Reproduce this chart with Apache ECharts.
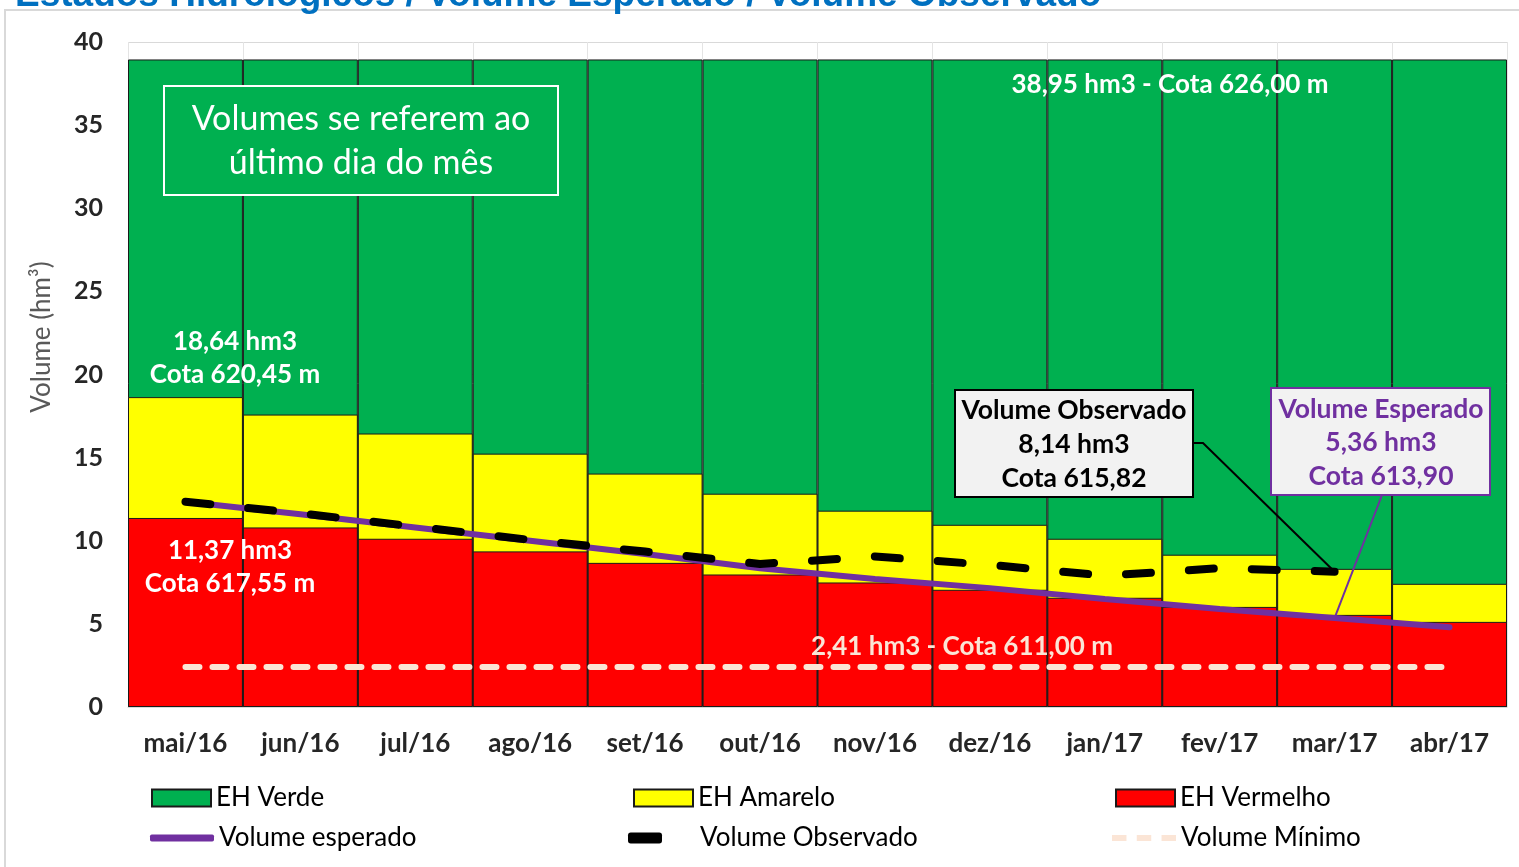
<!DOCTYPE html>
<html>
<head>
<meta charset="utf-8">
<title>Estados Hidrológicos</title>
<script src="https://cdn.jsdelivr.net/npm/echarts@6/dist/echarts.min.js"></script>
<style>
  html, body { margin: 0; padding: 0; background: #fff; }
  #chart { width: 1519px; height: 867px; }
</style>
</head>
<body>
<div id="chart"></div>
<script>
// meses (ultimo dia do mes)
var months = ['mai/16', 'jun/16', 'jul/16', 'ago/16', 'set/16', 'out/16', 'nov/16', 'dez/16', 'jan/17', 'fev/17', 'mar/17', 'abr/17']
// topo de cada faixa (hm3)
var verdeTop = [38.95, 38.95, 38.95, 38.95, 38.95, 38.95, 38.95, 38.95, 38.95, 38.95, 38.95, 38.95]
var amareloTop = [18.64, 17.59, 16.45, 15.24, 14.04, 12.83, 11.81, 10.96, 10.12, 9.16, 8.31, 7.41]
var vermelhoTop = [11.37, 10.80, 10.12, 9.36, 8.67, 7.97, 7.49, 7.05, 6.57, 6.02, 5.54, 5.12]
var volEsperado = [12.35, 11.6, 10.8, 10.0, 9.2, 8.35, 7.7, 7.15, 6.5, 5.9, 5.36, 4.8]
var volObservado = [12.35, 11.65, 10.85, 10.05, 9.35, 8.6, 9.05, 8.55, 7.9, 8.35, 8.14, null]
var volMinimo = [2.41, 2.41, 2.41, 2.41, 2.41, 2.41, 2.41, 2.41, 2.41, 2.41, 2.41, 2.41]
var yTicks = { min: 0, max: 40, interval: 5 }

var FONT = 'Lato'
var chart = echarts.init(document.getElementById('chart'))

function legendItem(name, left, top, extra) {
  var l = {
    data: [name],
    left: left,
    top: top,
    padding: 0,
    itemWidth: 59,
    itemHeight: 17,
    icon: 'rect',
    selectedMode: false,
    textStyle: { fontFamily: FONT, fontSize: 26, color: '#000' }
  }
  return Object.assign(l, extra || {})
}

var option = {
  animation: false,
  backgroundColor: '#fff',
  grid: { left: 128, right: 12, top: 42, bottom: 160 },
  xAxis: {
    type: 'category',
    data: months,
    axisTick: { show: false },
    axisLine: { lineStyle: { color: '#d9d9d9' } },
    splitLine: { show: true, interval: 0, lineStyle: { color: '#e4e4e4' } },
    axisLabel: { margin: 24, interval: 0, fontFamily: FONT, fontWeight: 'bold', fontSize: 26, color: '#262626' }
  },
  yAxis: {
    type: 'value',
    min: yTicks.min,
    max: yTicks.max,
    interval: yTicks.interval,
    axisLine: { show: false },
    axisTick: { show: false },
    splitLine: { lineStyle: { color: '#d9d9d9' } },
    axisLabel: { margin: 25, fontFamily: FONT, fontWeight: 'bold', fontSize: 25, color: '#262626' }
  },
  legend: [
    legendItem('EH Verde', 151, 785),
    legendItem('EH Amarelo', 633, 785),
    legendItem('EH Vermelho', 1115, 785),
    legendItem('Volume esperado', 150, 825, { itemWidth: 64, itemHeight: 7, icon: 'roundRect' }),
    legendItem('Volume Observado', 628, 825, {
      itemWidth: 34, itemHeight: 11, icon: 'roundRect',
      textStyle: { fontFamily: FONT, fontSize: 26, color: '#000', padding: [0, 0, 0, 33] }
    }),
    legendItem('Volume Mínimo', 1112, 825, {
      itemWidth: 64, itemHeight: 7,
      icon: 'path://M0,0h14v6h-14z M24,0h14v6h-14z M48,0h14v6h-14z'
    })
  ],
  series: [
    {
      name: 'EH Verde', type: 'bar', data: verdeTop,
      barGap: '-100%', barCategoryGap: '0%',
      itemStyle: { color: '#00b050', borderColor: '#1a1a1a', borderWidth: 1 }
    },
    {
      name: 'EH Amarelo', type: 'bar', data: amareloTop,
      barGap: '-100%', barCategoryGap: '0%',
      itemStyle: { color: '#ffff00', borderColor: '#1a1a1a', borderWidth: 1 }
    },
    {
      name: 'EH Vermelho', type: 'bar', data: vermelhoTop,
      barGap: '-100%', barCategoryGap: '0%',
      itemStyle: { color: '#ff0000', borderColor: '#1a1a1a', borderWidth: 1 }
    },
    {
      name: 'Volume Mínimo', type: 'line', data: volMinimo,
      symbol: 'none', z: 3,
      itemStyle: { color: '#fbe5d6' },
      lineStyle: { color: '#fbe5d6', width: 6, type: [14, 13], cap: 'round' }
    },
    {
      name: 'Volume esperado', type: 'line', data: volEsperado,
      symbol: 'none', z: 4,
      itemStyle: { color: '#7030a0' },
      lineStyle: { color: '#7030a0', width: 6, cap: 'round' }
    },
    {
      name: 'Volume Observado', type: 'line', data: volObservado,
      symbol: 'none', z: 5,
      itemStyle: { color: '#000' },
      lineStyle: { color: '#000', width: 8, type: [25, 38], cap: 'round' }
    }
  ]
}
chart.setOption(option)

// caixas de texto e linhas de chamada
var pObs = chart.convertToPixel({ xAxisIndex: 0, yAxisIndex: 0 }, [10, volObservado[10]])
var pEsp = chart.convertToPixel({ xAxisIndex: 0, yAxisIndex: 0 }, [10, volEsperado[10]])

function txt(x, y, text, size, color, weight, align) {
  return {
    type: 'text', x: x, y: y, z: 20,
    style: {
      text: text, fill: color, font: (weight || 'bold') + ' ' + size + 'px ' + FONT,
      align: align || 'center', verticalAlign: 'middle'
    }
  }
}

chart.setOption({
  graphic: [
    // moldura
    { type: 'rect', shape: { x: 5, y: 10, width: 1600, height: 1000 }, style: { fill: null, stroke: '#d9d9d9', lineWidth: 2 }, z: 1 },
    {
      type: 'text', x: 15, y: 14, z: 30,
      style: {
        text: 'Estados Hidrológicos / Volume Esperado / Volume Observado',
        fill: '#0070c0', font: 'bold 37px "Liberation Sans"', align: 'left', verticalAlign: 'bottom'
      }
    },
    // titulo do eixo y
    {
      type: 'text', x: 42, y: 337, rotation: Math.PI / 2, z: 20,
      style: { text: 'Volume (hm³)', fill: '#595959', font: '26px ' + FONT, align: 'center', verticalAlign: 'middle' }
    },
    { type: 'rect', shape: { x: 164, y: 86, width: 394, height: 109 }, style: { fill: '#00b050', stroke: '#fff', lineWidth: 2 }, z: 20 },
    txt(361, 119, 'Volumes se referem ao', 34, '#fff', 'normal'),
    txt(361, 163, 'último dia do mês', 34, '#fff', 'normal'),
    txt(1170, 85, '38,95 hm3 - Cota 626,00 m', 26, '#fff'),
    txt(235, 342, '18,64 hm3', 26, '#fff'),
    txt(235, 375, 'Cota 620,45 m', 26, '#fff'),
    txt(230, 551, '11,37 hm3', 26, '#fff'),
    txt(230, 584, 'Cota 617,55 m', 26, '#fff'),
    txt(962, 647, '2,41 hm3 - Cota 611,00 m', 26, '#fbe5d6'),
    // volume observado
    { type: 'polyline', shape: { points: [[1193, 443], [1203, 443], pObs] }, style: { stroke: '#000', lineWidth: 2, fill: null }, z: 19 },
    { type: 'rect', shape: { x: 955, y: 390, width: 238, height: 107 }, style: { fill: '#f2f2f2', stroke: '#000', lineWidth: 2 }, z: 20 },
    txt(1074, 410, 'Volume Observado', 26.5, '#000'),
    txt(1074, 444, '8,14 hm3', 26.5, '#000'),
    txt(1074, 478, 'Cota 615,82', 26.5, '#000'),
    // volume esperado
    { type: 'line', shape: { x1: 1382, y1: 495, x2: pEsp[0], y2: pEsp[1] }, style: { stroke: '#7030a0', lineWidth: 2 }, z: 19 },
    { type: 'rect', shape: { x: 1271, y: 388, width: 219, height: 107 }, style: { fill: '#f2f2f2', stroke: '#7030a0', lineWidth: 2 }, z: 20 },
    txt(1381, 409, 'Volume Esperado', 26.5, '#7030a0'),
    txt(1381, 442, '5,36 hm3', 26.5, '#7030a0'),
    txt(1381, 476, 'Cota 613,90', 26.5, '#7030a0')
  ]
})
</script>
</body>
</html>
